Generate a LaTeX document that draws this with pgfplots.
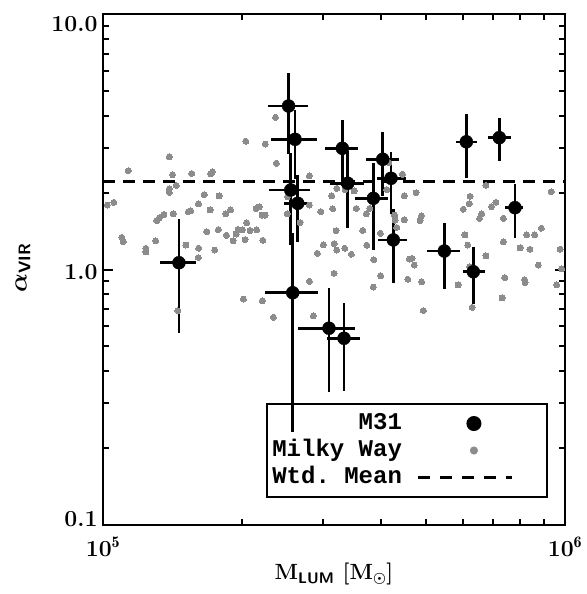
\documentclass[border=0pt]{standalone}
\usepackage{amsmath}
\usepackage{fontspec}
\setmonofont{Liberation Mono}
\usepackage{pgfplots}
\usepackage{pgfplotstable}
\pgfplotsset{compat=1.18}

\definecolor{mwgray}{RGB}{140,140,140}

% M31 clouds: luminous mass, virial parameter and their uncertainties
\pgfplotstableread{
M        Mm       Mp       a      am     ap
1.460e5  0.132e5  0.127e5  1.063  0.499  0.509
2.521e5  0.248e5  0.253e5  4.364  1.530  1.530
2.604e5  0.293e5  0.297e5  3.233  0.980  0.980
2.549e5  0.261e5  0.257e5  2.048  0.800  0.800
2.639e5  0.170e5  0.170e5  1.816  0.535  0.535
2.574e5  0.332e5  0.346e5  0.811  0.580  0.580
3.296e5  0.273e5  0.273e5  2.982  0.865  0.865
3.386e5  0.290e5  0.290e5  2.175  0.726  0.726
4.031e5  0.328e5  0.347e5  2.700  0.760  0.760
4.201e5  0.290e5  0.326e5  2.275  0.620  0.620
3.847e5  0.335e5  0.285e5  1.899  0.710  0.710
4.250e5  0.307e5  0.307e5  1.305  0.417  0.417
3.084e5  0.441e5  0.428e5  0.589  0.258  0.258
3.324e5  0.275e5  0.276e5  0.538  0.203  0.203
5.480e5  0.453e5  0.445e5  1.181  0.340  0.340
6.332e5  0.326e5  0.379e5  0.980  0.247  0.247
6.115e5  0.306e5  0.335e5  3.161  0.890  0.890
7.207e5  0.404e5  0.433e5  3.281  0.620  0.620
7.794e5  0.379e5  0.318e5  1.746  0.420  0.420
}\mthree

% Milky Way clouds
\pgfplotstableread{
M        a
1.022e5  1.788
1.055e5  1.832
1.098e5  1.336
1.106e5  1.285
1.134e5  2.436
1.238e5  1.211
1.238e5  1.171
1.300e5  1.296
1.307e5  1.555
1.324e5  1.595
1.355e5  1.641
1.392e5  2.764
1.414e5  2.350
1.392e5  2.072
1.392e5  2.002
1.441e5  2.133
1.419e5  1.653
1.452e5  0.690
1.512e5  1.247
1.530e5  1.684
1.548e5  1.697
1.556e5  2.375
1.609e5  1.805
1.611e5  1.211
1.608e5  1.114
1.656e5  1.963
1.677e5  1.406
1.711e5  2.365
1.725e5  2.415
1.705e5  1.710
1.745e5  1.192
1.783e5  1.940
1.777e5  1.433
1.850e5  1.361
1.845e5  1.652
1.888e5  1.710
1.912e5  1.295
1.941e5  1.377
1.960e5  1.434
2.000e5  1.428
2.081e5  1.421
2.151e5  1.428
2.030e5  1.308
2.013e5  0.766
2.037e5  3.178
2.047e5  1.521
2.144e5  1.733
2.176e5  1.757
2.209e5  1.634
2.242e5  1.634
2.217e5  1.301
2.212e5  0.755
2.244e5  3.099
2.337e5  0.650
2.362e5  3.942
2.372e5  2.604
2.508e5  1.928
2.505e5  1.653
2.670e5  1.525
2.797e5  2.323
2.797e5  1.788
2.960e5  1.684
3.126e5  1.940
3.205e5  2.079
3.141e5  1.730
3.341e5  2.056
3.494e5  2.029
3.534e5  1.733
3.715e5  1.653
3.779e5  1.736
4.113e5  2.056
4.156e5  2.623
4.448e5  2.360
4.487e5  1.940
4.276e5  1.634
4.286e5  1.562
4.487e5  1.566
4.322e5  1.460
3.194e5  1.419
3.649e5  1.422
2.998e5  1.249
2.910e5  1.157
3.165e5  1.262
3.205e5  1.192
3.336e5  1.211
3.447e5  1.147
3.723e5  1.245
3.983e5  1.386
3.854e5  1.093
3.991e5  0.945
3.847e5  0.854
3.162e5  0.966
2.797e5  0.899
2.853e5  0.659
4.567e5  0.916
4.603e5  1.099
4.759e5  1.998
4.887e5  1.620
4.855e5  1.552
4.665e5  1.106
4.716e5  1.041
4.892e5  0.896
4.935e5  0.691
5.867e5  0.870
6.229e5  1.934
6.203e5  1.810
6.745e5  2.136
6.024e5  1.722
6.602e5  1.652
6.531e5  1.586
6.932e5  1.762
7.089e5  1.832
7.356e5  1.586
6.074e5  1.365
6.160e5  1.247
6.221e5  1.025
6.745e5  1.131
7.356e5  1.285
7.407e5  0.930
7.992e5  1.214
8.398e5  1.200
8.262e5  1.365
8.598e5  1.365
8.886e5  1.450
8.754e5  1.041
8.177e5  0.910
8.193e5  0.888
9.335e5  2.016
9.754e5  1.201
9.838e5  1.006
9.594e5  0.870
6.296e5  0.711
7.306e5  0.774
}\mw

\begin{document}
\begin{tikzpicture}
\path[use as bounding box] (-103pt,-69pt) rectangle (483pt,525pt);
\begin{axis}[
  at={(0pt,0pt)}, anchor=south west,
  scale only axis, width=462pt, height=511pt,
  xmode=log, ymode=log,
  xmin=1e5, xmax=1e6, ymin=0.1, ymax=10,
  axis line style={line width=2.4pt},
  tick align=inside, tick pos=both,
  every tick/.style={black, line width=2pt},
  major tick length=10pt, minor tick length=6pt,
  xtick={1e5,1e6},
  minor xtick={2e5,3e5,4e5,5e5,6e5,7e5,8e5,9e5},
  xticklabels={\textbf{10}$^{\mathbf{5}}$,\textbf{10}$^{\mathbf{6}}$},
  ytick={0.1,1,10},
  minor ytick={0.2,0.3,0.4,0.5,0.6,0.7,0.8,0.9,2,3,4,5,6,7,8,9},
  yticklabels={\raisebox{-1.4pt}[0pt][0pt]{\textbf{0.1}},
               \raisebox{-9.9pt}[0pt][0pt]{\textbf{1.0}},
               \raisebox{-17.4pt}[0pt][0pt]{\textbf{10.0}}},
  tick label style={font=\fontsize{23}{26}\selectfont},
  xticklabel style={yshift=-8pt},
  yticklabel style={xshift=-2pt},
  xlabel={\textbf{M}$_{\text{\sffamily\bfseries LUM}}$ \textbf{[M}$_{\boldsymbol\odot}$\textbf{]}},
  xlabel style={font=\bfseries\fontsize{22}{25}\selectfont, at={(axis description cs:0.5,-0.107)}, anchor=base},
  legend cell align=right,
  legend plot pos=right,
  legend style={at={(0.963,0.0528)}, anchor=south east, draw=black, line width=2pt,
    fill=none, inner xsep=3pt, inner ysep=6pt, row sep=0pt,
    font=\ttfamily\bfseries\fontsize{24}{27}\selectfont,
    nodes={inner sep=2pt, text height=17pt, text depth=6pt}},
]
\addlegendimage{legend image code/.code={
  \path[draw=none, fill=none] (0pt,0pt) -- (140pt,0pt);
  \path[draw=none, fill=none, mark=*, mark size=6.5pt,
    mark options={draw=black, fill=black, solid}] plot coordinates {(70pt,0pt)};}}
\addlegendentry{M31}
\addlegendimage{legend image code/.code={
  \path[draw=none, fill=none] (0pt,0pt) -- (140pt,0pt);
  \path[draw=none, fill=none, mark=*, mark size=3pt,
    mark options={draw=mwgray, fill=mwgray, solid}] plot coordinates {(70pt,0pt)};}}
\addlegendentry{Milky Way}
\addlegendimage{legend image code/.code={
  \path[draw=none, fill=none] (0pt,0pt) -- (140pt,0pt);
  \draw[black, line width=2.4pt, dash pattern=on 12pt off 10pt] (14pt,0pt) -- (108pt,0pt);}}
\addlegendentry{Wtd. Mean}

% Milky Way sample
\addplot[only marks, forget plot, mark=*, mark size=3pt,
  mark options={fill=mwgray, draw=mwgray, line width=0pt}]
  table[x=M, y=a] {\mw};

% weighted mean of the M31 virial parameters
\addplot[forget plot, black, line width=2.4pt, dash pattern=on 12pt off 8pt]
  coordinates {(1e5,2.21) (1e6,2.21)};

% M31 clouds with error bars
\addplot[only marks, forget plot, black, mark=*, mark size=6.5pt,
  error bars/.cd, x dir=both, x explicit, y dir=both, y explicit,
  error mark=none, error bar style={line width=2.6pt, black}]
  table[x=M, y=a, x error minus=Mm, x error plus=Mp,
        y error minus=am, y error plus=ap] {\mthree};
\end{axis}
% y-axis title, set upright along the axis
\node[rotate=90, font=\fontsize{24}{28}\selectfont, inner sep=0pt]
  at (-80pt,257pt) {$\boldsymbol\alpha_{\text{\sffamily\bfseries VIR}}$};
\end{tikzpicture}
\end{document}
